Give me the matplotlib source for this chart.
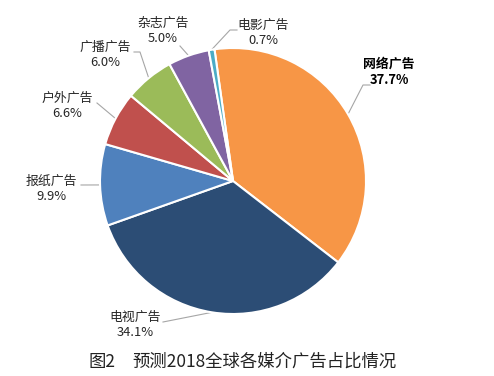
import numpy as np
import matplotlib
matplotlib.use("Agg")
import matplotlib.pyplot as plt

plt.rcParams['font.family'] = ['Noto Sans CJK SC', 'DejaVu Sans']

# data (percent)
labels = ['网络广告', '电视广告', '报纸广告', '户外广告', '广播广告', '杂志广告', '电影广告']
shares = [37.7, 34.1, 9.9, 6.6, 6.0, 5.0, 0.7]
colors = ['#F79646', '#2C4D75', '#4F81BD', '#C0504D', '#9BBB59', '#8064A2', '#4BACC6']
caption_fig = '图2'
caption = '预测2018全球各媒介广告占比情况'

# layout in image pixels (y from the top)
W, H = 494, 376
cx, cy, r = 233, 181, 133
start = 98
label_pos = [(389, 72), (135, 325), (51, 189), (67, 106), (105, 55), (163, 31), (263, 33)]
elbows = [[(363, 85), (370, 85)],
          [(163, 322)],
          [(81, 185)],
          [(97, 103)],
          [(140, 52), (134, 52)],
          [(180, 46)],
          [(230, 30), (237, 30)]]

fig = plt.figure(figsize=(W / 100, H / 100), dpi=100)
ax = fig.add_axes([0, 0, 1, 1])

wedges, _ = ax.pie(shares, colors=colors, startangle=start, counterclock=False,
                   center=(cx, H - cy), radius=r,
                   wedgeprops=dict(edgecolor='white', linewidth=1.5))

for i, w in enumerate(wedges):
    mid = np.deg2rad((w.theta1 + w.theta2) / 2)
    ax_pt = (cx + r * np.cos(mid), H - cy + r * np.sin(mid))
    pts = [ax_pt] + [(x, H - y) for x, y in elbows[i]]
    xs, ys = zip(*pts)
    ax.plot(xs, ys, color='#A6A6A6', lw=0.8, zorder=0)
    bold = 'bold' if i == 0 else 'normal'
    lx, ly = label_pos[i]
    ax.text(lx, H - ly, labels[i] + '\n' + f'{shares[i]:.1f}%', ha='center', va='center',
            fontsize=9.3, color='#262626' if i else 'black', fontweight=bold,
            linespacing=1.25)

ax.text(88, H - 362, caption_fig, ha='left', va='center', fontsize=12.5, color='#222222')
ax.text(132, H - 362, caption, ha='left', va='center', fontsize=12.5, color='#222222')

ax.set_xlim(0, W)
ax.set_ylim(0, H)
ax.set_aspect('equal')
ax.axis('off')

fig.savefig('out.png', dpi=100)
